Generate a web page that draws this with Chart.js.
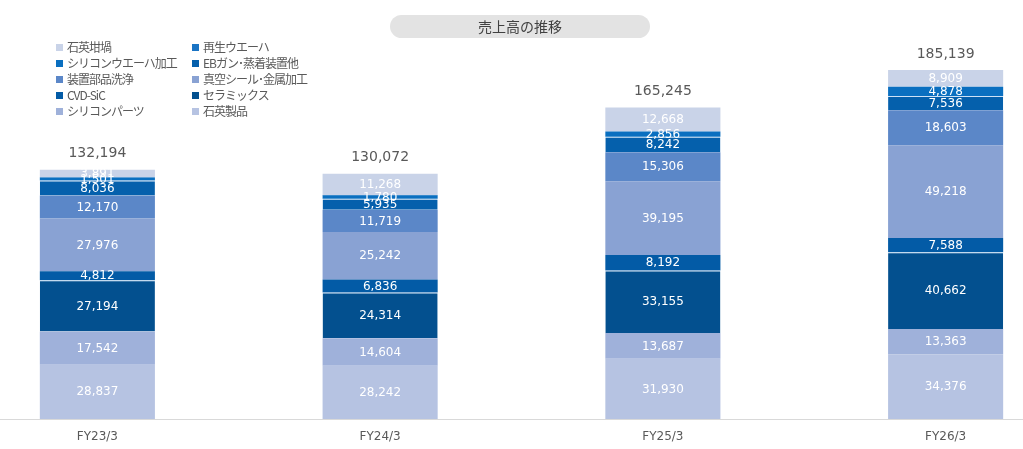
<!DOCTYPE html>
<html lang="ja">
<head>
<meta charset="utf-8">
<title>売上高の推移</title>
<script src="https://cdn.jsdelivr.net/npm/chart.js@4/dist/chart.umd.min.js"></script>
<style>
  html, body { margin: 0; padding: 0; background: #fff; overflow: hidden; }
  body { width: 1023px; height: 449px; position: relative; }
  #wrap { position: absolute; left: -44px; top: 0; width: 1131px; height: 449px; }
  #titulo {
    position: absolute; left: 390px; top: 15px; width: 260px; height: 23px;
    background: #e3e3e3; border-radius: 12px; text-align: center;
    font: 14px "Noto Sans CJK JP", sans-serif; line-height: 23px; color: #404040;
  }
  #legenda { position: absolute; left: 56px; top: 38px; }
  .item {
    position: absolute; white-space: nowrap; height: 16px; line-height: 16px;
    font: 12px "Noto Sans CJK JP", sans-serif; color: #595959;
    letter-spacing: -1px;
  }
  .item span { display: inline-block; width: 7px; height: 7px; margin-right: 4px; vertical-align: 1px; }
</style>
</head>
<body>
<div id="wrap"><canvas id="chartVendas"></canvas></div>
<div id="titulo">売上高の推移</div>
<div id="legenda"></div>
<script>
// dados (de baixo p/ cima na pilha)
const categorias = ['FY23/3', 'FY24/3', 'FY25/3', 'FY26/3'];
const sekieiSeihin = [28837, 28242, 31930, 34376];
const siliconParts = [17542, 14604, 13687, 13363];
const ceramics = [27194, 24314, 33155, 40662];
const cvdSic = [4812, 6836, 8192, 7588];
const shinkuSeal = [27976, 25242, 39195, 49218];
const souchiSenjou = [12170, 11719, 15306, 18603];
const ebGun = [8036, 5935, 8242, 7536];
const waferKakou = [1501, 1780, 2856, 4878];
const saiseiWafer = [235, 132, 14, 6];
const sekieiRutsubo = [3891, 11268, 12668, 8909];
const totais = [132194, 130072, 165245, 185139];

const linhaClara = 'rgba(200,222,245,0.9)';

const series = [
    { label: '石英製品', data: sekieiSeihin, cor: '#b6c3e2' },
    { label: 'シリコンパーツ', data: siliconParts, cor: '#9fb1da' },
    { label: 'セラミックス', data: ceramics, cor: '#03508f', topo: true },
    { label: 'CVD-SiC', data: cvdSic, cor: '#035ba6' },
    { label: '真空シール･金属加工', data: shinkuSeal, cor: '#89a2d3' },
    { label: '装置部品洗浄', data: souchiSenjou, cor: '#5b87c8' },
    { label: 'EBガン･蒸着装置他', data: ebGun, cor: '#0560ac', topo: true },
    { label: 'シリコンウエーハ加工', data: waferKakou, cor: '#0a6fc0' },
    { label: '再生ウエーハ', data: saiseiWafer, cor: '#1a74c4' },
    { label: '石英坩堝', data: sekieiRutsubo, cor: '#c9d3e8' }
];

// legenda em html (ordem invertida, 2 colunas)
const legenda = document.getElementById('legenda');
series.slice().reverse().forEach(function(s, i) {
    const d = document.createElement('div');
    d.className = 'item';
    d.style.left = (i % 2 === 0 ? 0 : 136) + 'px';
    d.style.top = (Math.floor(i / 2) * 15.9) + 'px';
    d.innerHTML = '<span style="background:' + s.cor + '"></span>' + s.label;
    legenda.appendChild(d);
});

// rótulos dentro das barras + total em cima
const pluginRotulos = {
    id: 'rotulos',
    afterDatasetsDraw(chart) {
        const ctx = chart.ctx;
        ctx.save();
        ctx.textAlign = 'center';
        ctx.textBaseline = 'middle';
        ctx.font = '12px "DejaVu Sans"';
        ctx.fillStyle = '#ffffff';
        const topos = [];
        chart.data.datasets.forEach(function(ds, d) {
            const meta = chart.getDatasetMeta(d);
            meta.data.forEach(function(bar, n) {
                topos[n] = topos[n] === undefined ? bar.y : Math.min(topos[n], bar.y);
                const v = ds.data[n];
                if (v < 1000) return;
                ctx.fillText(v.toLocaleString('en-US'), bar.x, (bar.y + bar.base) / 2 + 0.5);
            });
        });
        ctx.font = '14px "DejaVu Sans"';
        ctx.fillStyle = '#595959';
        const meta0 = chart.getDatasetMeta(0);
        totais.forEach(function(t, n) {
            ctx.fillText(t.toLocaleString('en-US'), meta0.data[n].x, topos[n] - 16);
        });
        ctx.restore();
    }
};

const ctx = document.getElementById('chartVendas').getContext('2d');
const myChart = new Chart(ctx, {
    type: 'bar',
    data: {
        labels: categorias,
        datasets: series.map(function(s) {
            return {
                label: s.label,
                data: s.data,
                backgroundColor: s.cor,
                borderColor: linhaClara,
                borderWidth: s.topo ? { top: 1, right: 0, bottom: 0, left: 0 } : 0,
                borderSkipped: false,
                categoryPercentage: 1,
                barPercentage: 0.407
            };
        })
    },
    options: {
        responsive: true,
        maintainAspectRatio: false,
        animation: false,
        layout: { padding: { top: 42, left: 0, right: 0, bottom: 0 } },
        plugins: {
            legend: { display: false },
            tooltip: { enabled: false }
        },
        scales: {
            x: {
                stacked: true,
                grid: { display: false, drawTicks: false },
                border: { display: true, color: '#d9d9d9', width: 1 },
                ticks: { padding: 11, color: '#595959', font: { family: 'DejaVu Sans', size: 12 } },
                afterFit: function(s) { s.height = 30; }
            },
            y: {
                stacked: true,
                display: false,
                min: 0,
                max: 200000
            }
        }
    },
    plugins: [pluginRotulos]
});
</script>
</body>
</html>
